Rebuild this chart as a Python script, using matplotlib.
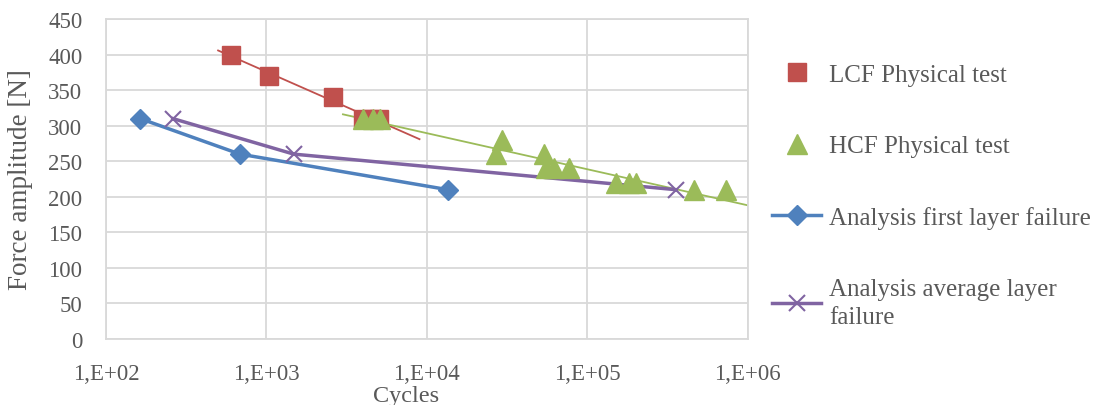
import numpy as np
import matplotlib.pyplot as plt
from matplotlib.ticker import FixedLocator, FuncFormatter

plt.rcParams["font.family"] = ["Liberation Serif", "DejaVu Serif"]

# fatigue data: cycles to failure vs force amplitude
lcf_cycles = [600, 1040, 2600, 4000, 4500, 5000]
lcf_force = [400, 370, 340, 310, 310, 310]

hcf_cycles = [4000, 4600, 5100, 26800, 29600, 53700, 55600, 61700, 77000,
              150000, 181000, 202000, 462000, 736000]
hcf_force = [310, 310, 310, 260, 280, 260, 240, 240, 240,
             220, 220, 220, 210, 210]

first_cycles = [163, 684, 13500]
first_force = [310, 260, 210]

avg_cycles = [261, 1480, 356000]
avg_force = [310, 260, 210]

red = "#C0504D"
green = "#9BBB59"
blue = "#4F81BD"
purple = "#8064A2"
txt = "#595959"

fig = plt.figure(figsize=(10.98, 4.06), dpi=100)
ax = fig.add_axes([0.0965, 0.1626, 0.5845, 0.7881])


def log_trend(x, y, x0, x1):
    # logarithmic trendline, straight on a log x axis
    b, a = np.polyfit(np.log10(x), y, 1)
    xs = np.array([x0, x1])
    return xs, a + b * np.log10(xs)


tx, ty = log_trend(lcf_cycles, lcf_force, 500, 9000)
ax.plot(tx, ty, color=red, lw=1.3, zorder=2)
tx, ty = log_trend(hcf_cycles, hcf_force, 3000, 1.3e6)
ax.plot(tx, ty, color=green, lw=1.3, zorder=2)

ax.plot(first_cycles, first_force, color=blue, lw=2.5, marker="D", ms=10,
        label="Analysis first layer failure", zorder=3)
ax.plot(avg_cycles, avg_force, color=purple, lw=2.5, marker="x", ms=12, mew=1.5,
        label="Analysis average layer\nfailure", zorder=3)
ax.plot(lcf_cycles, lcf_force, ls="none", marker="s", ms=12.5, color=red,
        label="LCF Physical test", zorder=4)
ax.plot(hcf_cycles, hcf_force, ls="none", marker="^", ms=14, color=green,
        label="HCF Physical test", zorder=5)

ax.set_xscale("log")
ax.set_xlim(100, 1e6)
ax.set_ylim(0, 450)
ax.xaxis.set_major_locator(FixedLocator([1e2, 1e3, 1e4, 1e5, 1e6]))
ax.xaxis.set_minor_locator(FixedLocator([]))
ax.xaxis.set_major_formatter(FuncFormatter(lambda v, p: "1,E+%02d" % round(np.log10(v))))
ax.set_yticks(np.arange(0, 451, 50))
ax.grid(True, color="#D9D9D9", lw=1.3)
ax.set_axisbelow(True)
for s in ax.spines.values():
    s.set_color("#D9D9D9")
    s.set_linewidth(1.3)
ax.tick_params(length=0, labelsize=16.5, colors=txt)
ax.tick_params(axis="x", pad=17)
ax.tick_params(axis="y", pad=17)

ax.set_xlabel("Cycles", fontsize=17.5, color=txt)
ax.xaxis.set_label_coords(0.467, -0.144)
ax.set_ylabel("Force amplitude [N]", fontsize=19.5, color=txt)
ax.yaxis.set_label_coords(-0.114, 0.5)

h, l = ax.get_legend_handles_labels()
order = [2, 3, 0, 1]
leg = ax.legend([h[i] for i in order], [l[i] for i in order],
                loc="upper left", bbox_to_anchor=(1.023, 0.893), borderaxespad=0,
                frameon=False, fontsize=18, labelspacing=1.96, handlelength=1.96,
                handletextpad=0.32, labelcolor=txt)
for t in leg.get_texts():
    t.set_linespacing(1.35)

fig.savefig("out.png", dpi=100)
